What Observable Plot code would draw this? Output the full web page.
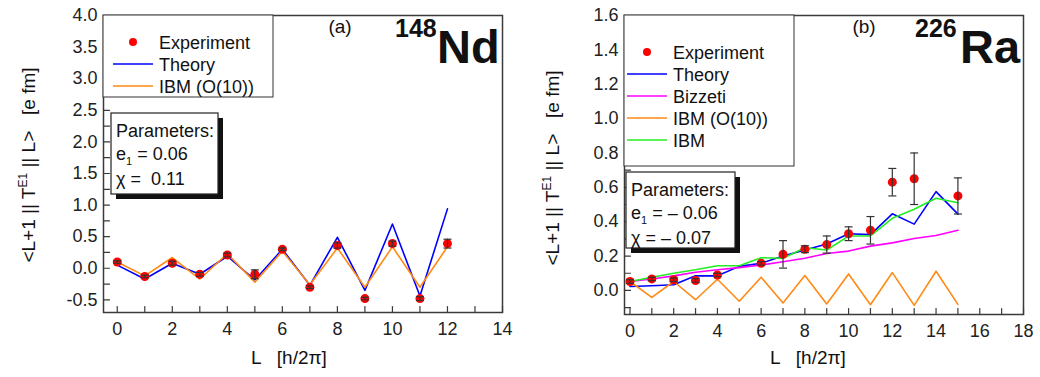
<!DOCTYPE html>
<html><head><meta charset="utf-8">
<script src="https://cdn.jsdelivr.net/npm/d3@7"></script>
<script src="https://cdn.jsdelivr.net/npm/@observablehq/plot@0.6"></script>
<style>
body{margin:0;background:#fff;}
#wrap{position:relative;width:1040px;height:377px;overflow:hidden;}
#wrap svg{position:absolute;top:0;}
text{white-space:pre;}
</style></head><body><div id="wrap"></div>
<script>
// ---------- Panel (a): 148Nd ----------
const L_a      = [0, 1, 2, 3, 4, 5, 6, 7, 8, 9, 10, 11, 12];
const expA     = [0.10, -0.13, 0.08, -0.095, 0.21, -0.095, 0.30, -0.30, 0.36, -0.48, 0.39, -0.48, 0.39];
const errA     = [0.02, 0.02, 0.03, 0.03, 0.03, 0.07, 0.02, 0.02, 0.04, 0.02, 0.04, 0.03, 0.07];
const theoryA  = [0.05, -0.17, 0.08, -0.095, 0.19, -0.185, 0.30, -0.27, 0.49, -0.35, 0.70, -0.44, 0.94];
const ibmO10A  = [0.10, -0.12, 0.17, -0.17, 0.23, -0.22, 0.27, -0.26, 0.32, -0.30, 0.34, -0.30, 0.34];
const xTicksA  = [0,1,2,3,4,5,6,7,8,9,10,11,12,13,14];
const yTicksA  = [-0.5,-0.25,0,0.25,0.5,0.75,1,1.25,1.5,1.75,2,2.25,2.5,2.75,3,3.25,3.5,3.75,4];

// ---------- Panel (b): 226Ra ----------
const L_b      = [0,1,2,3,4,5,6,7,8,9,10,11,12,13,14,15];
const expLB    = [0,1,2,3,4,6,7,8,9,10,11,12,13,15];
const expB     = [0.052,0.067,0.062,0.058,0.09,0.158,0.21,0.24,0.267,0.33,0.35,0.63,0.65,0.55];
const errB     = [0.01,0.01,0.01,0.01,0.01,0.01,0.08,0.02,0.05,0.04,0.08,0.08,0.15,0.105];
const theoryB  = [0.023,0.027,0.033,0.085,0.085,0.14,0.158,0.20,0.235,0.27,0.33,0.325,0.446,0.386,0.575,0.444];
const bizzetiB = [0.052,0.067,0.085,0.106,0.12,0.133,0.148,0.167,0.187,0.215,0.229,0.258,0.277,0.302,0.32,0.35];
const ibmO10B  = [0.052,-0.04,0.052,-0.054,0.065,-0.063,0.077,-0.073,0.087,-0.079,0.096,-0.083,0.104,-0.087,0.112,-0.081];
const ibmB     = [0.052,0.077,0.10,0.12,0.144,0.144,0.19,0.187,0.248,0.235,0.317,0.317,0.42,0.473,0.537,0.51];
const xTicksB  = [0,1,2,3,4,5,6,7,8,9,10,11,12,13,14,15,16,17,18];
const yTicksB  = [-0.1,0,0.1,0.2,0.3,0.4,0.5,0.6,0.7,0.8,0.9,1.0,1.1,1.2,1.3,1.4,1.5,1.6];

const FONT = "Liberation Sans, Arial, Helvetica, sans-serif";
const C = {exp:"#ff0000", theory:"#0000ff", ibmO10:"#ff8a14", bizzeti:"#ff00ff", ibm:"#22ee22", axis:"#3a3a3a"};

const capSymbol = {draw(ctx, size){ const r = Math.sqrt(size/Math.PI); ctx.moveTo(-r,0); ctx.lineTo(r,0); }};
const tickShape = {draw(ctx, l){ ctx.moveTo(0,0); ctx.lineTo(0,-l); }};

function series(xs, ys){ return xs.map((x,i)=>({L:x, v:ys[i]})); }

function panel(o){
  const expData = o.expL.map((x,i)=>({L:x, v:o.exp[i], e:o.err[i]}));
  const marks = [
    Plot.frame({stroke:C.axis, strokeWidth:1.5}),
    Plot.vector(o.xTicks, {x:d=>d, frameAnchor:"bottom", length:6, anchor:"start", shape:tickShape, stroke:C.axis, strokeWidth:1.2}),
    Plot.vector(o.yTicks, {y:d=>d, frameAnchor:"left", rotate:90, length:6, anchor:"start", shape:tickShape, stroke:C.axis, strokeWidth:1.2}),
    Plot.axisX(o.xTicks, {tickSize:0, tickPadding:10,
      tickFormat: d => d % 2 === 0 ? String(d) : "", label:null, fontSize:18}),
    Plot.axisY(o.yTicks, {tickSize:0, tickPadding:6,
      tickFormat: o.yFmt, label:null, fontSize:18})
  ];
  for (const s of o.lines) marks.push(Plot.line(series(o.L, s.v), {x:"L", y:"v", stroke:s.c, strokeWidth:1.6}));
  marks.push(Plot.dot(expData, {x:"L", y:"v", r:4.5, fill:C.exp}));
  marks.push(Plot.ruleX(expData, {x:"L", y1:d=>d.v-d.e, y2:d=>d.v+d.e, stroke:"#333", strokeWidth:1.2}));
  marks.push(Plot.dot(expData, {x:"L", y:d=>d.v+d.e, symbol:capSymbol, r:4, stroke:"#333", strokeWidth:1.2}));
  marks.push(Plot.dot(expData, {x:"L", y:d=>d.v-d.e, symbol:capSymbol, r:4, stroke:"#333", strokeWidth:1.2}));
  const svg = Plot.plot({
    width:520, height:377,
    marginLeft:o.ml, marginRight:o.mr, marginTop:15, marginBottom:o.mb,
    x:{domain:o.xd}, y:{domain:o.yd},
    style:{fontFamily:FONT, fontSize:"18px", color:"#222", background:"transparent"},
    marks
  });
  svg.style.left = o.left + "px";
  return svg;
}

const wrap = document.getElementById("wrap");

const svgA = panel({
  left:0, ml:103, mr:18, mb:65, xd:[-0.5,14], yd:[-0.7,4.0],
  L:L_a, expL:L_a, exp:expA, err:errA, xTicks:xTicksA, yTicks:yTicksA,
  yFmt: d => Math.abs(d*2 - Math.round(d*2)) < 1e-9 ? d.toFixed(1) : "",
  lines:[{v:theoryA, c:C.theory},{v:ibmO10A, c:C.ibmO10}]
});
const svgB = panel({
  left:520, ml:104, mr:17, mb:63, xd:[-0.25,18], yd:[-0.14,1.6],
  L:L_b, expL:expLB, exp:expB, err:errB, xTicks:xTicksB, yTicks:yTicksB,
  yFmt: d => Math.abs(d*5 - Math.round(d*5)) < 1e-9 ? d.toFixed(1) : "",
  lines:[{v:theoryB, c:C.theory},{v:bizzetiB, c:C.bizzeti},{v:ibmO10B, c:C.ibmO10},{v:ibmB, c:C.ibm}]
});
wrap.appendChild(svgA); wrap.appendChild(svgB);

function decorate(svg, o){
  const g = d3.select(svg).append("g").attr("font-family", FONT).attr("fill", "#111")
    .attr("text-anchor","start");
  // y label
  const t = g.append("text").attr("transform", `translate(${o.ylx},${o.yly}) rotate(-90)`)
    .attr("text-anchor","middle").attr("font-size",19);
  t.append("tspan").text("<L+1 || T");
  t.append("tspan").attr("dy",-8).attr("font-size",12).text("E1");
  t.append("tspan").attr("dy",8).text(" || L>   [e fm]");
  // x label
  g.append("text").attr("x",o.xlx).attr("y",364).attr("text-anchor","middle").attr("font-size",19)
    .text("L   [h/2\u03c0]");
  // panel tag and nucleus
  g.append("text").attr("x",o.tagx).attr("y",33).attr("text-anchor","middle").attr("font-size",19).text(o.tag);
  g.append("text").attr("x",o.nx).attr("y",37).attr("font-size",25).attr("font-weight","bold").text(o.mass);
  g.append("text").attr("x",o.nx2).attr("y",63).attr("font-size",47).attr("font-weight","bold").text(o.el);
  // legend box
  g.append("rect").attr("x",o.lb[0]).attr("y",o.lb[1]).attr("width",o.lb[2]).attr("height",o.lb[3])
    .attr("fill","#fff").attr("stroke","#333").attr("stroke-width",1);
  o.items.forEach((it,i)=>{
    const y = o.ly0 + i*o.ldy;
    if (it.dot) g.append("circle").attr("cx",o.lx0+20).attr("cy",y).attr("r",4).attr("fill",it.c);
    else g.append("line").attr("x1",o.lx0).attr("x2",o.lx0+40).attr("y1",y).attr("y2",y).attr("stroke",it.c).attr("stroke-width",1.6);
    g.append("text").attr("x",o.lx0+46).attr("y",y+7).attr("font-size",18).text(it.t);
  });
  // parameters box with shadow
  const [px,py,pw,ph] = o.pb;
  g.append("rect").attr("x",px+5).attr("y",py+5).attr("width",pw).attr("height",ph).attr("fill","#111");
  g.append("rect").attr("x",px).attr("y",py).attr("width",pw).attr("height",ph).attr("fill","#fff").attr("stroke","#222").attr("stroke-width",1.2);
  g.append("text").attr("x",px+5).attr("y",py+24).attr("font-size",18).text("Parameters:");
  const e = g.append("text").attr("x",px+5).attr("y",py+47).attr("font-size",18);
  e.append("tspan").text("e");
  e.append("tspan").attr("dy",5).attr("font-size",11).text("1");
  e.append("tspan").attr("dy",-5).text(" = " + o.e1);
  g.append("text").attr("x",px+5).attr("y",py+72).attr("font-size",18).text("\u03c7 = " + o.chi);
}

decorate(svgA, {ylx:35, yly:165, xlx:289, tagx:340, nx:395, nx2:437, tag:"(a)", mass:"148", el:"Nd",
  lb:[103,15,170,82], lx0:113, ly0:42, ldy:22,
  items:[{t:"Experiment", c:C.exp, dot:true},{t:"Theory", c:C.theory},{t:"IBM (O(10))", c:C.ibmO10}],
  pb:[111,113,107,81], e1:"0.06", chi:" 0.11"});
decorate(svgB, {ylx:39, yly:168, xlx:288, tagx:344, nx:395, nx2:440, tag:"(b)", mass:"226", el:"Ra",
  lb:[104,15,170,151], lx0:107, ly0:52, ldy:22,
  items:[{t:"Experiment", c:C.exp, dot:true},{t:"Theory", c:C.theory},{t:"Bizzeti", c:C.bizzeti},{t:"IBM (O(10))", c:C.ibmO10},{t:"IBM", c:C.ibm}],
  pb:[106,172,109,76], e1:"\u2013 0.06", chi:"\u2013 0.07"});
</script></body></html>
